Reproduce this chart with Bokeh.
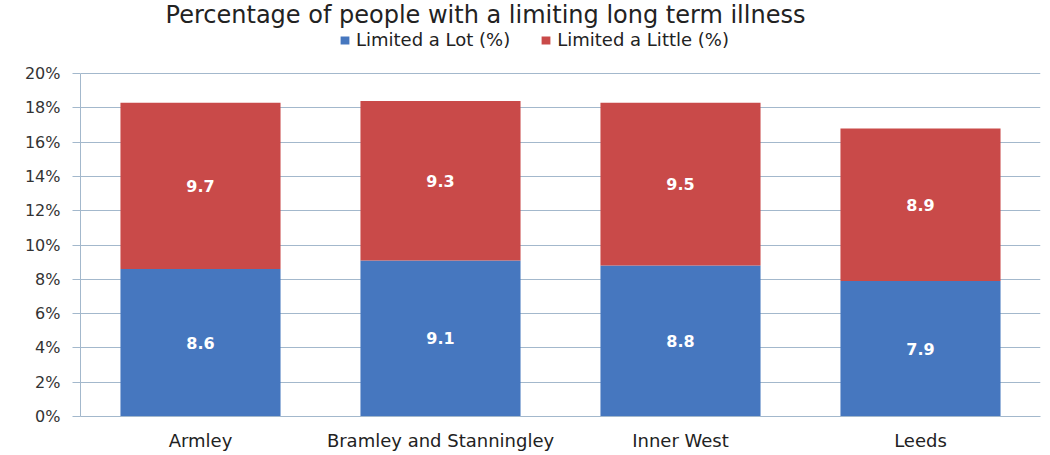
from bokeh.plotting import figure
from bokeh.models import (ColumnDataSource, Legend, LegendItem, FactorRange, Range1d,
                          FixedTicker, PrintfTickFormatter, Label)
from bokeh.core.properties import value
from bokeh.embed import file_html
from bokeh.resources import INLINE

title_text = "Percentage of people with a limiting long term illness"
categories = ["Armley", "Bramley and Stanningley", "Inner West", "Leeds"]
limited_lot = [8.6, 9.1, 8.8, 7.9]
limited_little = [9.7, 9.3, 9.5, 8.9]
series_names = ["Limited a Lot (%)", "Limited a Little (%)"]
y_ticks = [0, 2, 4, 6, 8, 10, 12, 14, 16, 18, 20]

BLUE = "#4677BF"
RED = "#C94A49"
GRID = "#A3B8CC"
FONT = "DejaVu Sans"

# layout (pixels)
W, H = 1048, 453
LEFT, RIGHT, BOTTOM = 80, 8, 37
FRAME_H = H - BOTTOM            # frame spans whole height above the x axis
AXIS_TOP_PX = 73                # pixel row of the 20% gridline
y_max = y_ticks[-1] * FRAME_H / (FRAME_H - AXIS_TOP_PX)

lot_mid = [v / 2 for v in limited_lot]
little_mid = [a + b / 2 for a, b in zip(limited_lot, limited_little)]

src = ColumnDataSource(dict(cat=categories, lot=limited_lot, little=limited_little,
                            lot_mid=lot_mid, little_mid=little_mid,
                            lot_txt=[f"{v:.1f}" for v in limited_lot],
                            little_txt=[f"{v:.1f}" for v in limited_little]))

p = figure(x_range=FactorRange(*categories), y_range=Range1d(0, y_max),
           width=W, height=H, output_backend="svg", toolbar_location=None,
           min_border_left=LEFT, min_border_right=RIGHT, min_border_bottom=BOTTOM,
           min_border_top=0)

rs = p.vbar_stack(["lot", "little"], x="cat", width=0.667, color=[BLUE, RED],
                  line_color=None, source=src)

for ycol, tcol in (("lot_mid", "lot_txt"), ("little_mid", "little_txt")):
    p.text(x="cat", y=ycol, text=tcol, source=src, text_align="center",
           text_baseline="middle", text_color="white", text_font=value(FONT),
           text_font_style="bold", text_font_size="16px")

p.add_layout(Label(x=405, y=FRAME_H, x_units="screen", y_units="screen",
                   text=title_text, text_font=FONT, text_font_size="24px",
                   text_color="#222222", text_baseline="top", text_align="center"))

legend = Legend(items=[LegendItem(label=series_names[0], renderers=[rs[0]]),
                       LegendItem(label=series_names[1], renderers=[rs[1]])],
                orientation="horizontal", location=(259, FRAME_H - 50),
                border_line_color=None, background_fill_alpha=0,
                label_text_font=FONT, label_text_font_size="18px", label_text_color="#222222",
                glyph_width=11, glyph_height=10, spacing=30, label_standoff=6,
                padding=3, margin=0, label_height=20)
p.add_layout(legend)

p.outline_line_color = None
p.xgrid.grid_line_color = None
p.ygrid.grid_line_color = GRID
p.ygrid.grid_line_width = 1

p.yaxis.ticker = FixedTicker(ticks=y_ticks)
p.yaxis.bounds = (y_ticks[0], y_ticks[-1])
p.yaxis.formatter = PrintfTickFormatter(format="%d%%")
p.yaxis.axis_line_color = GRID
p.yaxis.major_tick_line_color = GRID
p.yaxis.major_tick_out = 8
p.yaxis.major_tick_in = 0
p.yaxis.minor_tick_line_color = None
p.yaxis.major_label_standoff = 12
p.yaxis.major_label_text_font = FONT
p.yaxis.major_label_text_font_size = "16px"
p.yaxis.major_label_text_color = "#333333"

p.xaxis.axis_line_color = GRID
p.xaxis.major_tick_line_color = None
p.xaxis.major_tick_out = 0
p.xaxis.major_label_standoff = 13
p.xaxis.major_label_text_font = FONT
p.xaxis.major_label_text_font_size = "18px"
p.xaxis.major_label_text_color = "#222222"

open("out.html", "w").write(file_html(p, INLINE))
